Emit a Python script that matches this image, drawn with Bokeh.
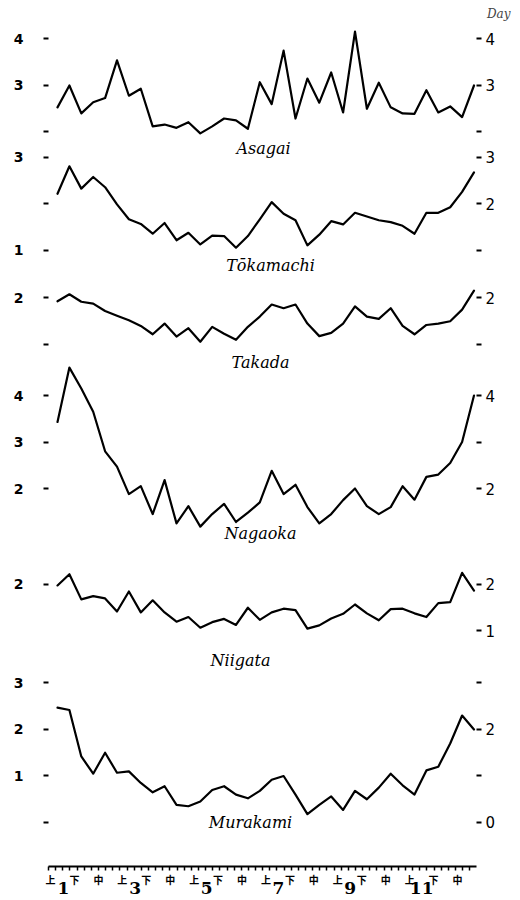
from bokeh.plotting import figure
from bokeh.models import Range1d, LinearAxis, FixedTicker, ColumnDataSource
from bokeh.transform import dodge
from bokeh.core.properties import value
from bokeh.embed import file_html
from bokeh.resources import INLINE

# ---------------- data (days, per dekad of the year) ----------------
dekad = list(range(36))

asagai = [2.53, 3.0, 2.4, 2.64, 2.73, 3.54, 2.78, 2.93, 2.12, 2.16, 2.09, 2.21,
          1.97, 2.12, 2.29, 2.25, 2.07, 3.07, 2.6, 3.75, 2.29, 3.15, 2.63, 3.28,
          2.42, 4.16, 2.5, 3.06, 2.53, 2.4, 2.39, 2.9, 2.42, 2.55, 2.32, 3.0]
tokamachi = [2.21, 2.8, 2.32, 2.57, 2.35, 1.98, 1.66, 1.56, 1.35, 1.58, 1.21, 1.37,
             1.12, 1.31, 1.3, 1.05, 1.3, 1.66, 2.03, 1.78, 1.64, 1.1, 1.33, 1.62,
             1.55, 1.8, 1.72, 1.64, 1.6, 1.52, 1.35, 1.8, 1.8, 1.92, 2.25, 2.67]
takada = [1.93, 2.08, 1.92, 1.88, 1.72, 1.62, 1.52, 1.4, 1.22, 1.45, 1.17, 1.35,
          1.06, 1.38, 1.23, 1.1, 1.38, 1.6, 1.86, 1.78, 1.86, 1.45, 1.18, 1.25,
          1.45, 1.82, 1.6, 1.55, 1.78, 1.4, 1.22, 1.42, 1.45, 1.5, 1.75, 2.16]
nagaoka = [3.43, 4.6, 4.15, 3.65, 2.8, 2.47, 1.88, 2.05, 1.45, 2.18, 1.25, 1.62,
           1.18, 1.45, 1.67, 1.28, 1.48, 1.7, 2.38, 1.88, 2.08, 1.6, 1.25, 1.45,
           1.75, 2.0, 1.62, 1.45, 1.6, 2.05, 1.76, 2.25, 2.3, 2.55, 3.0, 4.0]
niigata = [1.98, 2.22, 1.68, 1.75, 1.7, 1.42, 1.85, 1.4, 1.66, 1.4, 1.2, 1.3,
           1.07, 1.19, 1.26, 1.13, 1.5, 1.24, 1.4, 1.48, 1.45, 1.05, 1.12, 1.27,
           1.37, 1.57, 1.38, 1.23, 1.47, 1.48, 1.38, 1.3, 1.6, 1.62, 2.25, 1.87]
murakami = [2.47, 2.42, 1.42, 1.05, 1.5, 1.07, 1.1, 0.85, 0.65, 0.78, 0.38, 0.35,
            0.45, 0.7, 0.78, 0.6, 0.52, 0.68, 0.92, 1.0, 0.6, 0.18, 0.38, 0.56,
            0.27, 0.68, 0.5, 0.75, 1.05, 0.8, 0.6, 1.12, 1.2, 1.7, 2.3, 2.0]

station_keys = ["asagai", "tokamachi", "takada", "nagaoka", "niigata", "murakami"]
station_names = ["Asagai", "Tōkamachi", "Takada", "Nagaoka", "Niigata", "Murakami"]

left_tick_values = [[4, 3, 2], [3, 2, 1], [2, 1], [4, 3, 2], [2], [3, 2, 1, 0]]
left_tick_labels = [["4", "3", ""], ["3", "", "1"], ["2", ""], ["4", "3", "2"], ["2"], ["3", "2", "1", ""]]
right_tick_values = [[4, 3, 2], [3, 2, 1], [2, 1], [4, 3, 2], [2, 1], [3, 2, 1, 0]]
right_tick_labels = [["4", "3", ""], ["3", "2", ""], ["2", ""], ["4", "", "2"], ["2", "1"], ["", "2", "", "0"]]

dekad_marks = ["上", "下", "中"]
month_numbers = ["1", "3", "5", "7", "9", "11"]

# ---------------- layout constants (page pixels) ----------------
W, H = 518, 899
PX_PER_DAY = 46.5
FRAME_LEFT, FRAME_RIGHT = 48, 476
FRAME_TOP, FRAME_BOTTOM = 20, 866
zero_y = [224.5, 296, 390.5, 581, 677, 822]  # page y of "0 days" for each panel
offsets = [(FRAME_BOTTOM - z) / PX_PER_DAY for z in zero_y]
name_x = [263, 270, 260, 260, 240, 250]      # page x of station names
name_y = [148, 265, 362, 533, 660, 822]      # page y of station names
X0_PX, DX_PX = 57, 11.9                      # page x of first dekad, px per dekad


def px_to_x(px):
    return (px - X0_PX) / DX_PX


def py_to_g(py):
    return (FRAME_BOTTOM - py) / PX_PER_DAY


src = ColumnDataSource(dict(dekad=dekad, asagai=asagai, tokamachi=tokamachi, takada=takada,
                            nagaoka=nagaoka, niigata=niigata, murakami=murakami))

p = figure(width=W, height=H, output_backend="svg", toolbar_location=None,
           x_range=Range1d(px_to_x(FRAME_LEFT), px_to_x(FRAME_RIGHT)),
           y_range=Range1d(0, (FRAME_BOTTOM - FRAME_TOP) / PX_PER_DAY),
           min_border_left=FRAME_LEFT, min_border_right=W - FRAME_RIGHT,
           min_border_top=FRAME_TOP, min_border_bottom=H - FRAME_BOTTOM,
           title="Day")
p.outline_line_color = None
p.grid.visible = False
p.background_fill_color = "white"
p.border_fill_color = "white"

p.title.align = "right"
p.title.offset = -34
p.title.text_font = "DejaVu Serif"
p.title.text_font_style = "italic"
p.title.text_font_size = "12px"
p.title.standoff = 0

for key, off in zip(station_keys, offsets):
    p.line(x="dekad", y=dodge(key, off), source=src, line_color="black",
           line_width=2.2, line_join="round", line_cap="round")

p.text(x=[px_to_x(v) for v in name_x], y=[py_to_g(v) for v in name_y], text=station_names,
       text_align="center", text_baseline="middle", text_color="black",
       text_font=value("DejaVu Serif"), text_font_style="italic", text_font_size="16px")


# ---- left / right axes
def ticks_for(values, labels):
    pos, over = [], {}
    for vals, labs, off in zip(values, labels, offsets):
        for v, l in zip(vals, labs):
            t = round(v + off, 5)
            pos.append(t)
            over[t] = l
    return pos, over


lpos, lover = ticks_for(left_tick_values, left_tick_labels)
ya = p.yaxis[0]
ya.ticker = FixedTicker(ticks=lpos)
ya.major_label_overrides = lover
ya.axis_line_color = None
ya.minor_tick_line_color = None
ya.major_tick_in = 0
ya.major_tick_out = 5
ya.major_tick_line_width = 2
ya.major_label_standoff = 20
ya.major_label_text_font = "DejaVu Sans"
ya.major_label_text_font_style = "bold"
ya.major_label_text_font_size = "14px"
ya.major_label_text_color = "black"

rpos, rover = ticks_for(right_tick_values, right_tick_labels)
ra = LinearAxis(ticker=FixedTicker(ticks=rpos), major_label_overrides=rover,
                axis_line_color=None, minor_tick_line_color=None,
                major_tick_in=0, major_tick_out=5, major_tick_line_width=2,
                major_label_standoff=4, major_label_text_font="DejaVu Sans",
                major_label_text_font_size="15px", major_label_text_color="black")
p.add_layout(ra, "right")

# ---- bottom axis: dekad marks
label_pos = [round(px_to_x(50) + k * 2.012, 4) for k in range(18)]
minor_pos = [round(px_to_x(FRAME_LEFT) + k * 0.6, 4) for k in range(60)]
xa = p.xaxis[0]
xa.ticker = FixedTicker(ticks=label_pos, minor_ticks=minor_pos)
xa.major_label_overrides = {t: dekad_marks[k % 3] for k, t in enumerate(label_pos)}
xa.axis_line_width = 2
xa.major_tick_out = 0
xa.major_tick_in = 0
xa.minor_tick_out = 4
xa.minor_tick_in = 0
xa.minor_tick_line_width = 1.5
xa.major_label_standoff = 1
xa.axis_label_standoff = 0
xa.major_label_text_font = "Noto Sans CJK JP"
xa.major_label_text_font_style = "bold"
xa.major_label_text_font_size = "10px"
xa.major_label_text_color = "black"

# ---- second bottom axis: month numbers
month_pos = [round(px_to_x(63) + k * 6.02, 4) for k in range(6)]
ma = LinearAxis(ticker=FixedTicker(ticks=month_pos, minor_ticks=[]),
                major_label_overrides={t: month_numbers[k] for k, t in enumerate(month_pos)},
                axis_line_color=None, major_tick_line_color=None, minor_tick_line_color=None,
                major_tick_out=0, major_tick_in=0, minor_tick_out=0, minor_tick_in=0,
                major_label_standoff=-8, axis_label_standoff=0,
                major_label_text_font="DejaVu Serif", major_label_text_font_style="bold",
                major_label_text_font_size="17px", major_label_text_color="black")
p.add_layout(ma, "below")

open("out.html", "w").write(file_html(p, INLINE))
